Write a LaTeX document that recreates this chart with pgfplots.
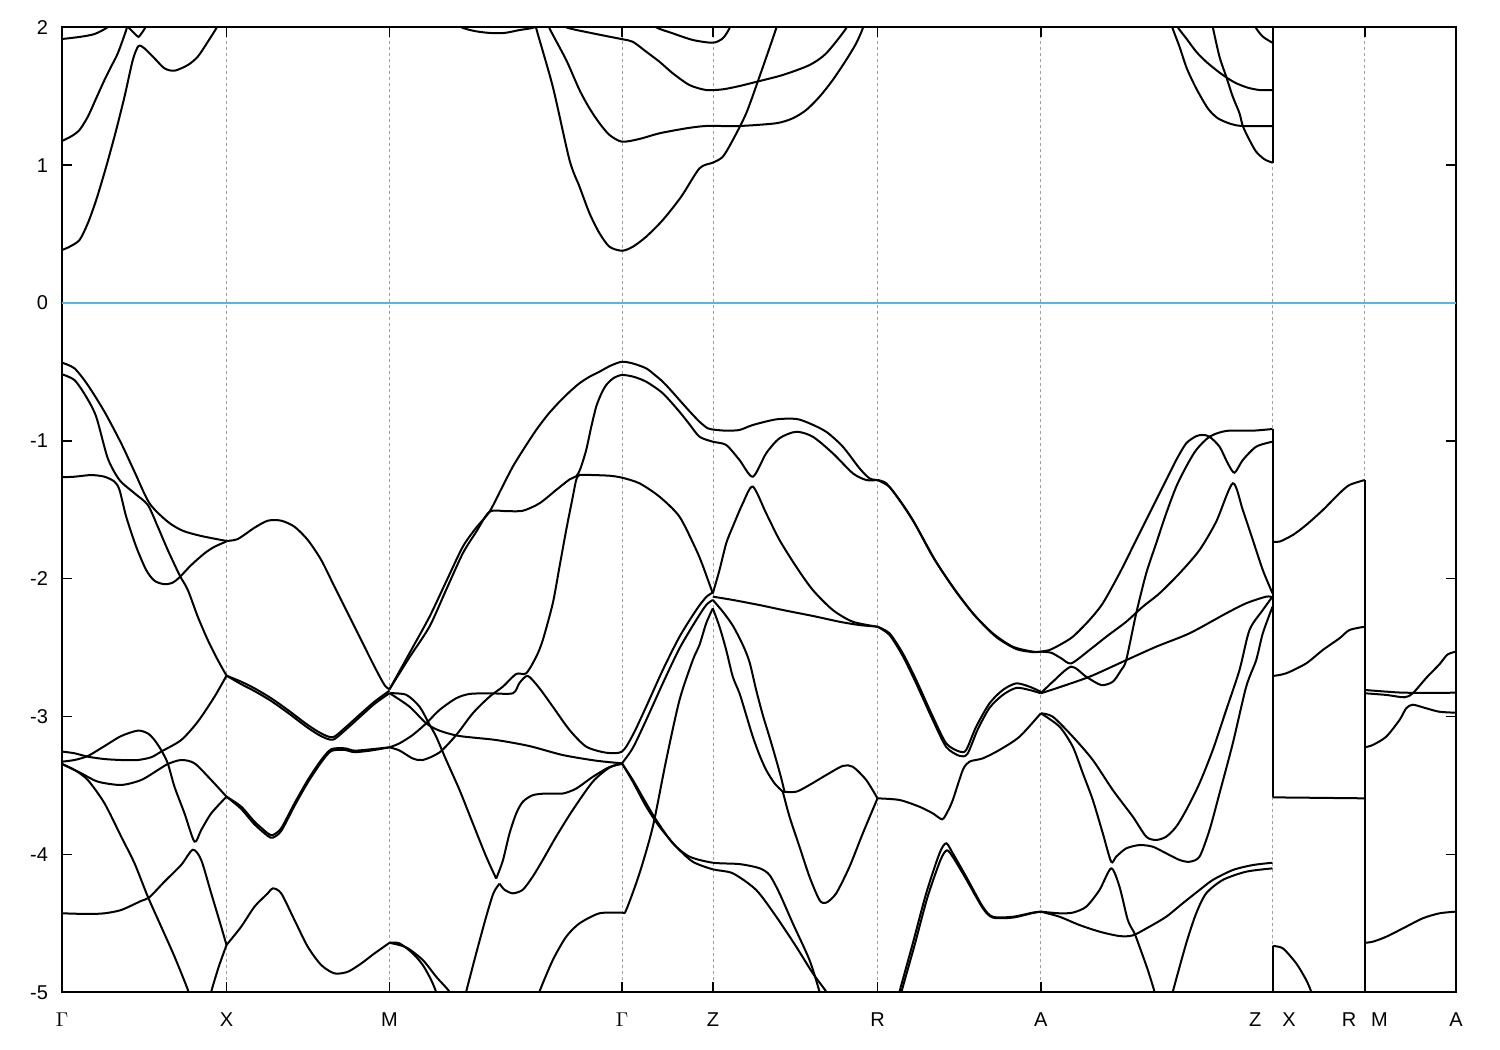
\documentclass[border=0pt]{standalone}
\usepackage{fontspec}
\setmainfont{Liberation Sans}
\usepackage{pgfplots}
\pgfplotsset{compat=1.18}
\definecolor{zeroblue}{RGB}{86,180,233}
\definecolor{gridgray}{RGB}{160,160,160}
\begin{document}
\begin{tikzpicture}
\begin{axis}[
  at={(0,0)}, anchor=south west, scale only axis,
  width=697pt, height=482.5pt,
  xmin=62.5, xmax=1456.5, ymin=-5, ymax=2,
  xtick={62.5,227,390,622.5,713.5,878,1041.3,1273,1365.3,1456.5},
  xticklabels={$\Gamma$,X,M,$\Gamma$,Z,R,A,Z\hspace{10.5pt}X,R\hspace{7.5pt}M,A},
  ytick={-5,-4,-3,-2,-1,0,1,2},
  yticklabels={-5,-4,-3,-2,-1,0,1,2},
  tick align=inside, major tick length=5pt,
  tick style={black, line width=0.7pt},
  axis line style={line width=1pt},
  xmajorgrids,
  grid style={gridgray, line width=0.5pt, dash pattern=on 1.5pt off 1.5pt},
  tick label style={font=\fontsize{10}{12}\selectfont},
  xticklabel style={yshift=-6.5pt},
  yticklabel style={xshift=-3.5pt},
  band/.style={black, line width=1pt, smooth, tension=0.45},
  vert/.style={black, line width=1pt},
]
% Fermi level
\addplot[zeroblue, line width=1pt] coordinates {(62.5,0) (1456.5,0)};

% ---------------- conduction bands ----------------
\addplot[band] coordinates {(62.5,1.915) (80,1.93) (95,1.951) (108,2.0) (112,2.05)};
\addplot[band] coordinates {(62.5,1.175) (72,1.21) (80,1.255) (88.3,1.351) (97,1.49) (105,1.618) (112,1.72) (118.3,1.811) (126.7,1.98) (128,2.03)};
\addplot[band, tension=0.2] coordinates {(127.5,2.05) (129,2.0) (139,1.93) (146,2.0) (147.5,2.05)};
\addplot[band] coordinates {(62.5,0.384) (70,0.408) (80,0.457) (88.3,0.578) (96.7,0.747) (106.7,0.989) (116.7,1.255) (125,1.496) (133.3,1.763) (139,1.864) (145,1.847) (155,1.775) (165,1.702) (175,1.685) (188.3,1.726) (198.3,1.787) (208.3,1.895) (217.3,2.0) (219,2.05)};
\addplot[band] coordinates {(455,2.05) (462,2.0) (475,1.973) (490,1.959) (505,1.959) (520,1.98) (535,2.0) (537,2.05)};
\addplot[band] coordinates {(536,2.05) (536.7,1.993) (553.3,1.569) (570,1.037) (580,0.844) (590,0.651) (600,0.506) (610,0.408) (622.5,0.379) (633.3,0.408) (646.7,0.481) (663.3,0.602) (681.7,0.771) (700,0.977) (713.3,1.018) (723.3,1.061) (733.3,1.182) (746.7,1.376) (760,1.642) (776.7,1.993) (778,2.05)};
\addplot[band] coordinates {(549,2.05) (550,1.993) (566.7,1.763) (580,1.545) (590,1.412) (600,1.304) (610,1.219) (622.5,1.170) (640,1.190) (660,1.231) (686.7,1.267) (706.7,1.284) (740,1.284) (776.7,1.304) (793.3,1.340) (806.7,1.400) (820,1.496) (833.3,1.618) (846.7,1.763) (856.7,1.884) (863.3,1.993) (864.5,2.05)};
\addplot[band] coordinates {(565,2.05) (566.7,2.0) (593.3,1.956) (621.7,1.915) (633.3,1.895) (646.7,1.823) (660,1.750) (673.3,1.666) (690,1.581) (706.7,1.545) (723.3,1.550) (740,1.574) (760,1.610) (783.3,1.654) (810,1.726) (826.7,1.811) (846.7,1.993) (848,2.05)};
\addplot[band] coordinates {(655,2.05) (656.7,2.0) (673.3,1.956) (693.3,1.908) (713.3,1.888) (723.3,1.920) (730,1.993) (731,2.05)};
\addplot[band] coordinates {(1171,2.05) (1172.7,2.0) (1180,1.859) (1187.3,1.702) (1196.7,1.557) (1208.3,1.412) (1218.3,1.340) (1231.7,1.298) (1243.3,1.284) (1273,1.284)};
\addplot[band] coordinates {(1212,2.05) (1213.3,2.0) (1220,1.786) (1226.7,1.642) (1233.3,1.496) (1240,1.376) (1243.3,1.284) (1250,1.182) (1256.7,1.097) (1265,1.042) (1273,1.018)};
\addplot[band] coordinates {(1176.5,2.05) (1178.3,2.0) (1186.7,1.92) (1196.7,1.823) (1206.7,1.750) (1216.7,1.690) (1226.7,1.637) (1236.7,1.594) (1248.3,1.562) (1260,1.545) (1273,1.545)};
\addplot[band] coordinates {(1254,2.05) (1256,2.0) (1263.3,1.932) (1273,1.888)};
\addplot[vert] coordinates {(1273,1.018) (1273,2.1)};

% ---------------- valence bands: Gamma - X ----------------
\addplot[band] coordinates {(62.5,-0.433) (75,-0.474) (88.3,-0.595) (105,-0.789) (121.7,-1.018) (135,-1.224) (150,-1.453) (168.3,-1.587) (183.3,-1.652) (201.7,-1.690) (227,-1.726)};
\addplot[band] coordinates {(62.5,-0.517) (75,-0.559) (86.7,-0.680) (96.7,-0.825) (108.3,-1.127) (120,-1.284) (135,-1.380) (148.3,-1.465) (158.3,-1.623) (168.3,-1.792) (180,-1.973) (188.3,-2.081) (198.3,-2.276) (208.3,-2.445) (218.3,-2.590) (227,-2.703)};
\addplot[band] coordinates {(62.5,-1.264) (75,-1.260) (91.7,-1.248) (105,-1.260) (115,-1.296) (120,-1.356) (126.7,-1.550) (136.7,-1.768) (146.7,-1.937) (155,-2.015) (165,-2.040) (173.3,-2.028) (180,-1.990) (191.7,-1.901) (205,-1.816) (215,-1.768) (227,-1.730)};
\addplot[band] coordinates {(62.5,-3.254) (75,-3.266) (88.3,-3.291) (105,-3.308) (121.7,-3.315) (138.3,-3.315) (151.7,-3.295) (161.7,-3.254) (181.7,-3.170) (198.3,-3.037) (215,-2.856) (227,-2.703)};
\addplot[band] coordinates {(62.5,-3.327) (75,-3.315) (88.3,-3.286) (105,-3.214) (121.7,-3.141) (138.3,-3.102) (148.3,-3.122) (155,-3.170) (161.7,-3.243) (168.3,-3.340) (175,-3.509) (185,-3.702) (195,-3.907) (201.7,-3.823) (211.7,-3.702) (227,-3.581)};
\addplot[band] coordinates {(62.5,-3.344) (81.7,-3.411) (98.3,-3.472) (121.7,-3.496) (141.7,-3.460) (158.3,-3.388) (168.3,-3.344) (181.7,-3.315) (195,-3.339) (211.7,-3.460) (227,-3.581)};
\addplot[band] coordinates {(62.5,-3.344) (75,-3.387) (88.3,-3.460) (105,-3.629) (121.7,-3.871) (135,-4.064) (148.3,-4.306) (161.7,-4.524) (175,-4.741) (188.3,-4.981) (190,-5.05)};
\addplot[band] coordinates {(62.5,-4.427) (88.3,-4.432) (105,-4.427) (121.7,-4.403) (141.7,-4.337) (150,-4.310) (165,-4.197) (181.7,-4.076) (193.3,-3.966) (201.7,-4.040) (211.7,-4.282) (221.7,-4.524) (227,-4.657)};
\addplot[band] coordinates {(210.5,-5.05) (211.7,-4.996) (219,-4.82) (227,-4.657)};

% ---------------- X - M ----------------
\addplot[band] coordinates {(227,-1.726) (238.3,-1.712) (255,-1.630) (268.3,-1.579) (281.7,-1.579) (295,-1.623) (308.3,-1.719) (321.7,-1.864) (335,-2.058) (348.3,-2.251) (361.7,-2.445) (375,-2.638) (385,-2.771) (390,-2.802)};
\addplot[band] coordinates {(227,-2.703) (241.7,-2.747) (255,-2.795) (271.7,-2.867) (288.3,-2.952) (308.3,-3.061) (321.7,-3.122) (333.3,-3.150) (345,-3.085) (361.7,-2.976) (375,-2.892) (390,-2.812)};
\addplot[band] coordinates {(227,-2.703) (241.7,-2.765) (255,-2.815) (271.7,-2.887) (288.3,-2.972) (308.3,-3.081) (321.7,-3.142) (333.3,-3.168) (345,-3.103) (361.7,-2.994) (375,-2.908) (390,-2.83)};
\addplot[band] coordinates {(227,-3.581) (241.7,-3.653) (255,-3.762) (268.3,-3.847) (273.3,-3.859) (281.7,-3.810) (295,-3.629) (308.3,-3.460) (321.7,-3.315) (331.7,-3.237) (345,-3.230) (355,-3.247) (371.7,-3.237) (390,-3.223)};
\addplot[band] coordinates {(227,-3.581) (241.7,-3.670) (255,-3.782) (268.3,-3.866) (273.3,-3.878) (281.7,-3.830) (295,-3.648) (308.3,-3.478) (321.7,-3.332) (331.7,-3.250) (345,-3.242) (355,-3.258) (371.7,-3.246) (390,-3.223)};
\addplot[band] coordinates {(227,-4.657) (241.7,-4.524) (255,-4.379) (268.3,-4.282) (273.3,-4.246) (281.7,-4.282) (295,-4.476) (308.3,-4.670) (321.7,-4.802) (335,-4.863) (348.3,-4.851) (361.7,-4.791) (375,-4.718) (390,-4.641)};

% ---------------- M - Gamma ----------------
\addplot[band] coordinates {(390,-2.802) (410,-2.54) (430,-2.276) (446.7,-2.02) (463.3,-1.768) (476.7,-1.63) (490,-1.514) (501.7,-1.35) (513.3,-1.187) (525,-1.05) (536.7,-0.921) (548.3,-0.81) (560,-0.716) (570,-0.645) (580,-0.582) (590,-0.535) (600,-0.498) (611,-0.455) (622.5,-0.426) (634,-0.44) (646.7,-0.474) (655,-0.52) (663.3,-0.571) (671.7,-0.636) (680,-0.704) (690,-0.785) (700,-0.861) (708.3,-0.909) (716,-0.92) (726.7,-0.926) (740,-0.921) (753.3,-0.885) (776.7,-0.844) (796.7,-0.841) (810,-0.873) (826.7,-0.934) (843.3,-1.042) (860,-1.199) (870,-1.272) (878,-1.284)};
\addplot[band] coordinates {(390,-2.802) (410,-2.57) (430,-2.347) (446.7,-2.08) (463.3,-1.816) (476.7,-1.66) (490,-1.514) (506.7,-1.51) (523.3,-1.507) (540,-1.453) (556.7,-1.356) (570,-1.28) (577,-1.255) (581,-1.2) (586.7,-1.066) (591.7,-0.9) (596.7,-0.752) (601.7,-0.66) (606.7,-0.595) (614,-0.545) (622.5,-0.522) (634,-0.535) (646.7,-0.571) (663.3,-0.655) (680,-0.789) (690,-0.88) (700,-0.970) (713.3,-1.006) (726.7,-1.030) (740,-1.139) (753.3,-1.260) (766.7,-1.090) (780,-0.981) (796.7,-0.934) (813.3,-0.970) (833.3,-1.090) (853.3,-1.235) (866.7,-1.284) (878,-1.284)};
\addplot[band] coordinates {(390,-3.223) (400,-3.246) (413.3,-3.304) (423.3,-3.315) (440,-3.26) (456.7,-3.134) (473.3,-2.976) (490,-2.856) (503.3,-2.783) (516.7,-2.691) (526.7,-2.686) (536.7,-2.566) (543.3,-2.445) (553.3,-2.178) (560,-1.913) (566.7,-1.647) (573.3,-1.405) (576.7,-1.284) (580,-1.248) (593.3,-1.248) (610,-1.253) (622.5,-1.267) (640,-1.308) (660,-1.405) (680,-1.550) (696.7,-1.79) (703,-1.9) (708,-2.0) (713.3,-2.106)};
\addplot[band] coordinates {(390,-3.223) (400,-3.194) (413.3,-3.133) (426.7,-3.049) (440,-2.952) (456.7,-2.867) (470,-2.836) (490,-2.831) (513.3,-2.831) (520,-2.756) (528.3,-2.705) (540,-2.795) (553.3,-2.928) (570,-3.097) (586.7,-3.218) (606.7,-3.262) (622.5,-3.254) (633.3,-3.134) (646.7,-2.928) (663.3,-2.662) (680,-2.421) (696.7,-2.227) (706.7,-2.133) (713.3,-2.1)};
\addplot[band] coordinates {(390,-2.83) (410,-2.928) (426.7,-3.049) (440,-3.102) (460,-3.141) (496.7,-3.17) (530,-3.214) (563.3,-3.279) (596.7,-3.320) (622.5,-3.339)};
\addplot[band] coordinates {(390,-2.83) (406.7,-2.842) (420,-2.928) (430,-3.058) (436.7,-3.146) (446.7,-3.315) (460,-3.532) (473.3,-3.774) (486.7,-4.016) (496.7,-4.175)};
\addplot[band] coordinates {(496.7,-4.175) (503.3,-4.046) (510,-3.848) (516.7,-3.703) (523.3,-3.618) (533.3,-3.570) (546.7,-3.558) (563.3,-3.558) (576.7,-3.522) (593.3,-3.437) (610,-3.366) (622.5,-3.344)};
\addplot[band] coordinates {(500,-4.212) (505,-4.256) (513.3,-4.282) (523.3,-4.256) (533.3,-4.160) (543.3,-4.040) (556.7,-3.870) (573.3,-3.677) (593.3,-3.472) (610,-3.370) (622.5,-3.339)};
\addplot[band] coordinates {(465,-5.05) (466.7,-4.995) (476.7,-4.717) (486.7,-4.451) (494,-4.28) (500,-4.212)};
\addplot[band] coordinates {(390,-4.641) (400,-4.645) (413.3,-4.718) (423.3,-4.802) (431.7,-4.911) (436.7,-5.0) (437.5,-5.05)};
\addplot[band] coordinates {(390,-4.641) (406.7,-4.674) (423.3,-4.766) (436.7,-4.887) (450,-4.996) (451,-5.05)};
\addplot[band] coordinates {(539,-5.05) (540,-4.995) (553.3,-4.766) (566.7,-4.597) (580,-4.500) (600,-4.427) (622.5,-4.422) (626.7,-4.403) (640,-4.137) (653.3,-3.799) (666.7,-3.315) (680,-2.880) (693.3,-2.590) (700,-2.48) (706.7,-2.323) (713.3,-2.215)};

% ---------------- Gamma - Z ----------------
\addplot[band] coordinates {(622.5,-3.339) (633.3,-3.228) (646.7,-3.025) (663.3,-2.759) (680,-2.505) (696.7,-2.300) (706.7,-2.191) (713.3,-2.154)};
\addplot[band] coordinates {(622.5,-3.339) (633.3,-3.460) (646.7,-3.629) (656.7,-3.750) (673.3,-3.919) (690,-4.016) (713.3,-4.060) (740,-4.070) (760,-4.100) (770,-4.149) (780,-4.282) (793.3,-4.500) (810,-4.766) (820,-4.996) (821,-5.05)};
\addplot[band] coordinates {(622.5,-3.339) (633.3,-3.472) (646.7,-3.653) (660,-3.799) (676.7,-3.944) (693.3,-4.053) (713.3,-4.108) (733.3,-4.137) (756.7,-4.258) (776.7,-4.451) (796.7,-4.669) (813.3,-4.862) (826.7,-4.996) (828,-5.05)};

% ---------------- Z - R ----------------
\addplot[band] coordinates {(713.3,-2.106) (720,-1.937) (726.7,-1.743) (733.3,-1.622) (743.3,-1.453) (753.3,-1.332) (766.7,-1.526) (780,-1.719) (796.7,-1.913) (813.3,-2.082) (833.3,-2.227) (853.3,-2.312) (878,-2.348)};
\addplot[band] coordinates {(713.3,-2.130) (733.3,-2.154) (760,-2.191) (786.7,-2.232) (813.3,-2.270) (840,-2.312) (860,-2.336) (878,-2.348)};
\addplot[band] coordinates {(713.3,-2.215) (720,-2.348) (726.7,-2.517) (733.3,-2.711) (740,-2.831) (746.7,-2.989) (753.3,-3.146) (760,-3.279) (766.7,-3.388) (775,-3.484) (783.3,-3.545)};
\addplot[band] coordinates {(713.3,-2.154) (723.3,-2.239) (733.3,-2.34) (743.3,-2.48) (750,-2.604) (756.7,-2.808) (763.3,-2.989) (770,-3.148) (776.7,-3.315) (781.7,-3.446) (785,-3.545)};
\addplot[band] coordinates {(783.3,-3.545) (796.7,-3.545) (810,-3.496) (826.7,-3.424) (843.3,-3.358) (853.3,-3.364) (866.7,-3.460) (878,-3.593)};
\addplot[band] coordinates {(783.3,-3.545) (790,-3.726) (800,-3.944) (810,-4.162) (820,-4.331) (826.7,-4.350) (836.7,-4.282) (850,-4.089) (863.3,-3.847) (878,-3.593)};

% ---------------- R - A ----------------
\addplot[band] coordinates {(878,-1.284) (886.7,-1.308) (900,-1.429) (913.3,-1.574) (933.3,-1.840) (953.3,-2.058) (973.3,-2.251) (993.3,-2.396) (1013.3,-2.493) (1033.3,-2.529) (1041.3,-2.529)};
\addplot[band] coordinates {(878,-1.284) (890,-1.334) (903.3,-1.465) (916.7,-1.618) (936.7,-1.879) (956.7,-2.096) (976.7,-2.278) (996.7,-2.423) (1016.7,-2.510) (1033.3,-2.532) (1041.3,-2.529)};
\addplot[band] coordinates {(878,-2.348) (890,-2.396) (903.3,-2.541) (916.7,-2.735) (933.3,-3.0) (946.7,-3.194) (960,-3.254) (966.7,-3.242) (976.7,-3.073) (990,-2.904) (1003.3,-2.807) (1016.7,-2.759) (1030,-2.783) (1041.3,-2.82)};
\addplot[band] coordinates {(878,-2.348) (890,-2.408) (903.3,-2.561) (916.7,-2.76) (933.3,-3.025) (946.7,-3.22) (960,-3.285) (968,-3.27) (978,-3.097) (990,-2.937) (1003.3,-2.843) (1016.7,-2.792) (1030,-2.807) (1041.3,-2.831)};
\addplot[band] coordinates {(878,-3.593) (900,-3.605) (920,-3.654) (933.3,-3.702) (942.7,-3.745) (948,-3.69) (953.3,-3.605) (963.3,-3.388) (970,-3.327) (983.3,-3.303) (1000,-3.242) (1020,-3.146) (1041.3,-2.976)};
\addplot[band] coordinates {(899,-5.05) (900,-4.996) (913.3,-4.645) (926.7,-4.282) (940,-3.992) (946.7,-3.919) (953.3,-3.992) (966.7,-4.162) (983.3,-4.379) (993.3,-4.452) (1013.3,-4.452) (1033.3,-4.422) (1041.3,-4.415)};
\addplot[band] coordinates {(901,-5.05) (902,-4.996) (915,-4.66) (928,-4.31) (941,-4.04) (947.5,-3.97) (954,-4.026) (966.7,-4.18) (983.3,-4.39) (993.3,-4.458) (1013.3,-4.458) (1033.3,-4.425) (1041.3,-4.415)};

% ---------------- A - Z ----------------
\addplot[band] coordinates {(1041.3,-2.529) (1051.7,-2.537) (1061.7,-2.577) (1071.7,-2.614) (1090,-2.517) (1106.7,-2.421) (1126.7,-2.312) (1143.3,-2.203) (1160,-2.106) (1180,-1.961) (1200,-1.792) (1216.7,-1.586) (1233.3,-1.308) (1243.3,-1.502) (1253.3,-1.719) (1263.3,-1.937) (1273,-2.106)};
\addplot[band] coordinates {(1041.3,-2.831) (1053.3,-2.747) (1071.7,-2.638) (1086.7,-2.711) (1101.7,-2.771) (1113.3,-2.747) (1121.7,-2.662) (1126.7,-2.590) (1136.7,-2.251) (1146.7,-1.961) (1156.7,-1.743) (1166.7,-1.526) (1176.7,-1.333) (1186.7,-1.187) (1196.7,-1.066) (1210,-0.970) (1226.7,-0.928) (1253.3,-0.926) (1273,-0.914)};
\addplot[band] coordinates {(1041.3,-2.529) (1050,-2.517) (1060,-2.481) (1073.3,-2.421) (1090,-2.299) (1103.3,-2.178) (1120,-1.961) (1136.7,-1.719) (1153.3,-1.478) (1166.7,-1.284) (1176.7,-1.139) (1186.7,-1.018) (1196.7,-0.966) (1203.3,-0.957) (1210,-0.970) (1220,-1.042) (1228.3,-1.163) (1235,-1.231) (1243.3,-1.139) (1256.7,-1.042) (1273,-1.006)};
\addplot[band] coordinates {(1041.3,-2.831) (1056.7,-2.795) (1090,-2.711) (1123.3,-2.602) (1156.7,-2.493) (1190,-2.396) (1226.7,-2.251) (1246.7,-2.178) (1266.7,-2.130) (1273,-2.135)};
\addplot[band] coordinates {(1041.3,-2.976) (1053.3,-3.001) (1073.3,-3.146) (1093.3,-3.315) (1113.3,-3.533) (1133.3,-3.726) (1146.7,-3.871) (1156.7,-3.895) (1166.7,-3.871) (1176.7,-3.799) (1186.7,-3.678) (1200,-3.484) (1213.3,-3.242) (1226.7,-2.952) (1240,-2.662) (1250,-2.372) (1263.3,-2.227) (1273,-2.13)};
\addplot[band] coordinates {(1041.3,-2.976) (1060,-3.073) (1073.3,-3.219) (1083.3,-3.411) (1093.3,-3.605) (1103.3,-3.847) (1111.7,-4.053) (1116.7,-4.016) (1126.7,-3.956) (1140,-3.932) (1153.3,-3.944) (1166.7,-3.992) (1180,-4.040) (1190,-4.053) (1200,-4.016) (1210,-3.823) (1220,-3.557) (1233.3,-3.194) (1246.7,-2.783) (1256.7,-2.590) (1263.3,-2.396) (1273,-2.203)};
\addplot[band] coordinates {(1041.3,-4.415) (1060,-4.427) (1073.3,-4.422) (1086.7,-4.379) (1100,-4.258) (1111.7,-4.101) (1120,-4.234) (1128.3,-4.476) (1135,-4.572) (1140,-4.669) (1148.3,-4.838) (1155,-4.996) (1156,-5.05)};
\addplot[band] coordinates {(1041.3,-4.415) (1060,-4.452) (1080,-4.512) (1100,-4.560) (1120,-4.592) (1133.3,-4.587) (1150,-4.524) (1166.7,-4.452) (1183.3,-4.354) (1200,-4.258) (1213.3,-4.185) (1233.3,-4.113) (1253.3,-4.077) (1273,-4.060)};
\addplot[band] coordinates {(1172,-5.05) (1173.3,-4.996) (1186.7,-4.645) (1196.7,-4.427) (1206.7,-4.282) (1223.3,-4.185) (1246.7,-4.125) (1273,-4.101)};

% ---------------- Z|X - R|M - A ----------------
\addplot[vert] coordinates {(1273,-0.914) (1273,-3.586)};
\addplot[vert] coordinates {(1273,-4.664) (1273,-5.1)};
\addplot[band] coordinates {(1273,-1.731) (1280,-1.731) (1293.3,-1.683) (1306.7,-1.610) (1323.3,-1.502) (1340,-1.380) (1350,-1.320) (1365.3,-1.284)};
\addplot[band] coordinates {(1273,-2.706) (1286.7,-2.686) (1306.7,-2.614) (1323.3,-2.517) (1340,-2.432) (1350,-2.372) (1365.3,-2.348)};
\addplot[vert] coordinates {(1273,-3.586) (1300,-3.588) (1365.3,-3.593)};
\addplot[band] coordinates {(1273,-4.664) (1283.3,-4.681) (1296.7,-4.790) (1306.7,-4.911) (1311.7,-4.996) (1313,-5.05)};
\addplot[vert] coordinates {(1365.3,-1.284) (1365.3,-5.1)};
\addplot[band] coordinates {(1365.3,-2.807) (1386.7,-2.819) (1406.7,-2.827) (1456.5,-2.827)};
\addplot[band] coordinates {(1365.3,-2.831) (1386.7,-2.843) (1405,-2.860) (1413.3,-2.831) (1426.7,-2.72) (1440,-2.62) (1448,-2.55) (1456.5,-2.529)};
\addplot[band] coordinates {(1365.3,-3.223) (1373.3,-3.206) (1386.7,-3.146) (1400,-3.025) (1406.7,-2.940) (1413.3,-2.914) (1426.7,-2.940) (1440,-2.965) (1456.5,-2.972)};
\addplot[band] coordinates {(1365.3,-4.641) (1373.3,-4.633) (1386.7,-4.597) (1406.7,-4.524) (1423.3,-4.463) (1440,-4.427) (1456.5,-4.415)};
\end{axis}
\pgfresetboundingbox
\path[use as bounding box] (-31pt,-28.85pt) rectangle (719pt,496.15pt);
\end{tikzpicture}
\end{document}
